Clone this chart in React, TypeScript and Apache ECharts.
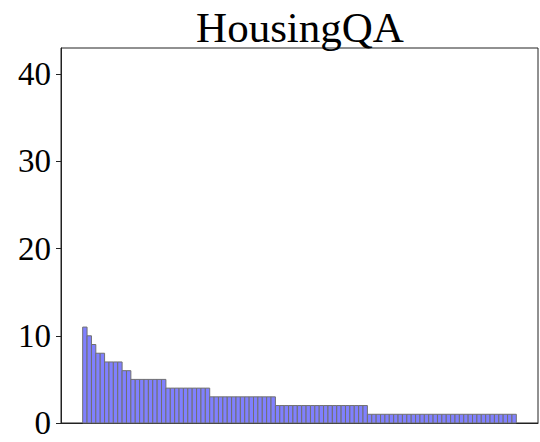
import React, { useEffect, useRef } from "react";
import * as echarts from "echarts";

const title = "HousingQA";
const yTicks = [0, 10, 20, 30, 40];
const values = [
  11, 10, 9, 8, 8, 7, 7, 7, 7, 6, 6,
  5, 5, 5, 5, 5, 5, 5, 5,
  4, 4, 4, 4, 4, 4, 4, 4, 4, 4,
  3, 3, 3, 3, 3, 3, 3, 3, 3, 3, 3, 3, 3, 3, 3,
  2, 2, 2, 2, 2, 2, 2, 2, 2, 2, 2, 2, 2, 2, 2, 2, 2, 2, 2, 2, 2,
  1, 1, 1, 1, 1, 1, 1, 1, 1, 1, 1, 1, 1, 1, 1, 1, 1, 1, 1, 1, 1, 1, 1, 1, 1, 1, 1, 1, 1, 1, 1, 1, 1, 1,
];

const FONT = "'Liberation Serif', 'Times New Roman', serif";

export default function App() {
  const ref = useRef<HTMLDivElement>(null);
  useEffect(() => {
    document.body.style.margin = "0";
    const chart = echarts.init(ref.current!, null, { renderer: "svg" });
    const n = values.length;
    const pad = n * 0.05;
    chart.setOption({
      animation: false,
      backgroundColor: "#ffffff",
      grid: {
        left: 61,
        right: 2,
        top: 48,
        bottom: 19,
        show: true,
        borderColor: "#222",
        borderWidth: 1,
        backgroundColor: "transparent",
      },
      graphic: [
        {
          type: "text",
          x: 300,
          y: 27,
          style: {
            text: title,
            font: `43px ${FONT}`,
            fill: "#000",
            align: "center",
            verticalAlign: "middle",
          },
        },
      ],
      xAxis: {
        type: "value",
        min: -0.5 - pad,
        max: n - 0.5 + pad,
        axisLine: { show: true, onZero: false, lineStyle: { color: "#222", width: 1 } },
        axisTick: { show: false },
        axisLabel: { show: false },
        splitLine: { show: false },
      },
      yAxis: {
        type: "value",
        min: 0,
        max: 43,
        interval: 10,
        axisLine: { show: true, onZero: false, lineStyle: { color: "#222", width: 1 } },
        axisTick: { show: true, length: 5, lineStyle: { color: "#222" }, customValues: yTicks },
        axisLabel: {
          fontFamily: FONT,
          fontSize: 33,
          color: "#000",
          margin: 10,
          customValues: yTicks,
        },
        splitLine: { show: false },
      },
      series: [
        {
          type: "custom",
          encode: { x: 0, y: 1 },
          data: values.map((v, i) => [i, v]),
          renderItem: (params: any, api: any) => {
            const i = api.value(0);
            const v = api.value(1);
            const p0 = api.coord([i - 0.5, v]);
            const p1 = api.coord([i + 0.5, 0]);
            return {
              type: "rect",
              shape: { x: p0[0], y: p0[1], width: p1[0] - p0[0], height: p1[1] - p0[1] },
              style: { fill: "#8080ff", stroke: "#707070", lineWidth: 1 },
            };
          },
        },
      ],
    });
    return () => chart.dispose();
  }, []);
  return <div ref={ref} style={{ width: 540, height: 442 }} />;
}
